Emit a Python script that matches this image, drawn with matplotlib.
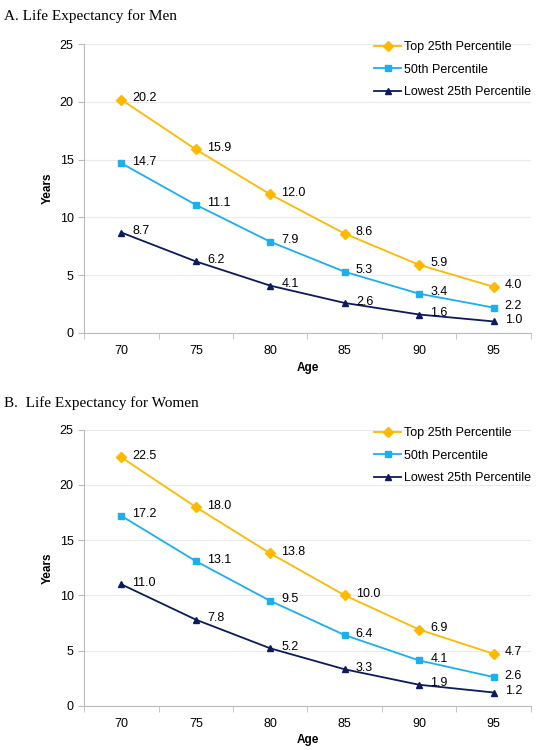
import matplotlib.pyplot as plt
import numpy as np

ages = [70, 75, 80, 85, 90, 95]
series_names = ['Top 25th Percentile', '50th Percentile', 'Lowest 25th Percentile']

men_top = [20.2, 15.9, 12.0, 8.6, 5.9, 4.0]
men_mid = [14.7, 11.1, 7.9, 5.3, 3.4, 2.2]
men_low = [8.7, 6.2, 4.1, 2.6, 1.6, 1.0]

women_top = [22.5, 18.0, 13.8, 10.0, 6.9, 4.7]
women_mid = [17.2, 13.1, 9.5, 6.4, 4.1, 2.6]
women_low = [11.0, 7.8, 5.2, 3.3, 1.9, 1.2]

colors = ['#FFB900', '#1AAFEF', '#0D1A5C']
markers = ['D', 's', '^']

plt.rcParams['font.family'] = ['Liberation Sans', 'DejaVu Sans']

fig = plt.figure(figsize=(5.39, 7.5), dpi=100)

panels = [
    ('A. Life Expectancy for Men', [men_top, men_mid, men_low], 0.556, 0.941, 0.978),
    ('B.  Life Expectancy for Women', [women_top, women_mid, women_low], 0.059, 0.427, 0.462),
]

x = np.arange(len(ages))
for title, data, bottom, top, title_y in panels:
    ax = fig.add_axes([0.156, bottom, 0.829, top - bottom])
    for vals, name, c, m in zip(data, series_names, colors, markers):
        ax.plot(x, vals, color=c, marker=m, markersize=5, lw=1.3, label=name)
        for xi, v in zip(x, vals):
            ax.annotate(f'{v:.1f}', (xi, v), xytext=(8, 1), textcoords='offset points',
                        ha='left', va='center', fontsize=9)
    ax.set_xlim(-0.5, len(ages) - 0.5)
    ax.set_ylim(0, 25)
    ax.set_yticks([0, 5, 10, 15, 20, 25])
    ax.set_xticks(x)
    ax.set_xticklabels([str(a) for a in ages])
    ax.set_xticks(np.arange(-0.5, len(ages), 1), minor=True)
    ax.tick_params(axis='x', which='major', length=0, labelsize=9, pad=9)
    ax.tick_params(axis='x', which='minor', length=4, color='#BBBBBB')
    ax.tick_params(axis='y', length=4, color='#BBBBBB', labelsize=9)
    ax.yaxis.grid(True, color='#EAEAEA', lw=0.8)
    ax.set_axisbelow(True)
    for s in ['top', 'right']:
        ax.spines[s].set_visible(False)
    for s in ['left', 'bottom']:
        ax.spines[s].set_color('#BBBBBB')
    ax.set_ylabel('Years', fontsize=8.5, fontweight='bold', labelpad=4)
    ax.set_xlabel('Age', fontsize=8.5, fontweight='bold', labelpad=3)
    ax.legend(loc='upper right', bbox_to_anchor=(1.025, 1.05), frameon=False, fontsize=9,
              handlelength=2.2, handletextpad=0.2, labelspacing=0.85)
    fig.text(0.008, title_y, title, fontsize=11, family='Liberation Serif', va='center')

fig.savefig('out.png', dpi=100)
